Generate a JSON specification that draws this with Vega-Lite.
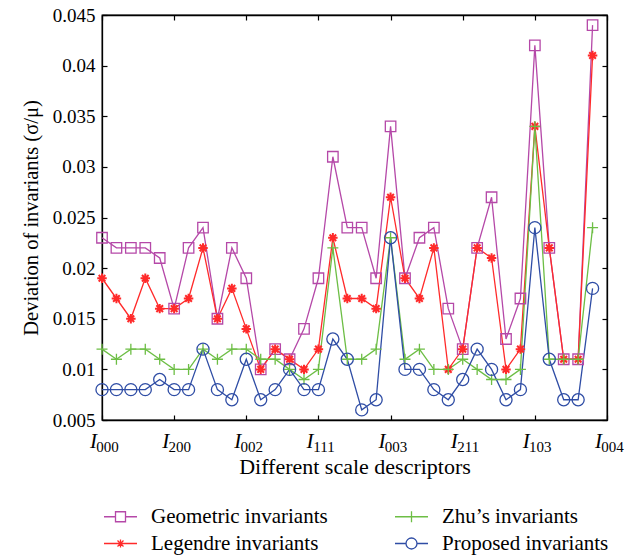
{
  "$schema": "https://vega.github.io/schema/vega-lite/v6.json",
  "width": 505,
  "height": 405,
  "autosize": "none",
  "padding": {"left": 102, "top": 15, "right": 32, "bottom": 137},
  "background": "white",
  "data": {"values": [
    {"i":0,"series":"Geometric invariants","v":0.023},{"i":1,"series":"Geometric invariants","v":0.022},{"i":2,"series":"Geometric invariants","v":0.022},{"i":3,"series":"Geometric invariants","v":0.022},{"i":4,"series":"Geometric invariants","v":0.021},{"i":5,"series":"Geometric invariants","v":0.016},{"i":6,"series":"Geometric invariants","v":0.022},{"i":7,"series":"Geometric invariants","v":0.024},{"i":8,"series":"Geometric invariants","v":0.015},{"i":9,"series":"Geometric invariants","v":0.022},{"i":10,"series":"Geometric invariants","v":0.019},{"i":11,"series":"Geometric invariants","v":0.010},{"i":12,"series":"Geometric invariants","v":0.012},{"i":13,"series":"Geometric invariants","v":0.011},{"i":14,"series":"Geometric invariants","v":0.014},{"i":15,"series":"Geometric invariants","v":0.019},{"i":16,"series":"Geometric invariants","v":0.031},{"i":17,"series":"Geometric invariants","v":0.024},{"i":18,"series":"Geometric invariants","v":0.024},{"i":19,"series":"Geometric invariants","v":0.019},{"i":20,"series":"Geometric invariants","v":0.034},{"i":21,"series":"Geometric invariants","v":0.019},{"i":22,"series":"Geometric invariants","v":0.023},{"i":23,"series":"Geometric invariants","v":0.024},{"i":24,"series":"Geometric invariants","v":0.016},{"i":25,"series":"Geometric invariants","v":0.012},{"i":26,"series":"Geometric invariants","v":0.022},{"i":27,"series":"Geometric invariants","v":0.027},{"i":28,"series":"Geometric invariants","v":0.013},{"i":29,"series":"Geometric invariants","v":0.017},{"i":30,"series":"Geometric invariants","v":0.042},{"i":31,"series":"Geometric invariants","v":0.022},{"i":32,"series":"Geometric invariants","v":0.011},{"i":33,"series":"Geometric invariants","v":0.011},{"i":34,"series":"Geometric invariants","v":0.044},
    {"i":0,"series":"Legendre invariants","v":0.019},{"i":1,"series":"Legendre invariants","v":0.017},{"i":2,"series":"Legendre invariants","v":0.015},{"i":3,"series":"Legendre invariants","v":0.019},{"i":4,"series":"Legendre invariants","v":0.016},{"i":5,"series":"Legendre invariants","v":0.016},{"i":6,"series":"Legendre invariants","v":0.017},{"i":7,"series":"Legendre invariants","v":0.022},{"i":8,"series":"Legendre invariants","v":0.015},{"i":9,"series":"Legendre invariants","v":0.018},{"i":10,"series":"Legendre invariants","v":0.014},{"i":11,"series":"Legendre invariants","v":0.010},{"i":12,"series":"Legendre invariants","v":0.012},{"i":13,"series":"Legendre invariants","v":0.011},{"i":14,"series":"Legendre invariants","v":0.010},{"i":15,"series":"Legendre invariants","v":0.012},{"i":16,"series":"Legendre invariants","v":0.023},{"i":17,"series":"Legendre invariants","v":0.017},{"i":18,"series":"Legendre invariants","v":0.017},{"i":19,"series":"Legendre invariants","v":0.016},{"i":20,"series":"Legendre invariants","v":0.027},{"i":21,"series":"Legendre invariants","v":0.019},{"i":22,"series":"Legendre invariants","v":0.017},{"i":23,"series":"Legendre invariants","v":0.022},{"i":24,"series":"Legendre invariants","v":0.010},{"i":25,"series":"Legendre invariants","v":0.012},{"i":26,"series":"Legendre invariants","v":0.022},{"i":27,"series":"Legendre invariants","v":0.021},{"i":28,"series":"Legendre invariants","v":0.010},{"i":29,"series":"Legendre invariants","v":0.012},{"i":30,"series":"Legendre invariants","v":0.034},{"i":31,"series":"Legendre invariants","v":0.022},{"i":32,"series":"Legendre invariants","v":0.011},{"i":33,"series":"Legendre invariants","v":0.011},{"i":34,"series":"Legendre invariants","v":0.041},
    {"i":0,"series":"Zhu’s invariants","v":0.012},{"i":1,"series":"Zhu’s invariants","v":0.011},{"i":2,"series":"Zhu’s invariants","v":0.012},{"i":3,"series":"Zhu’s invariants","v":0.012},{"i":4,"series":"Zhu’s invariants","v":0.011},{"i":5,"series":"Zhu’s invariants","v":0.010},{"i":6,"series":"Zhu’s invariants","v":0.010},{"i":7,"series":"Zhu’s invariants","v":0.012},{"i":8,"series":"Zhu’s invariants","v":0.011},{"i":9,"series":"Zhu’s invariants","v":0.012},{"i":10,"series":"Zhu’s invariants","v":0.012},{"i":11,"series":"Zhu’s invariants","v":0.011},{"i":12,"series":"Zhu’s invariants","v":0.011},{"i":13,"series":"Zhu’s invariants","v":0.010},{"i":14,"series":"Zhu’s invariants","v":0.009},{"i":15,"series":"Zhu’s invariants","v":0.010},{"i":16,"series":"Zhu’s invariants","v":0.022},{"i":17,"series":"Zhu’s invariants","v":0.011},{"i":18,"series":"Zhu’s invariants","v":0.011},{"i":19,"series":"Zhu’s invariants","v":0.012},{"i":20,"series":"Zhu’s invariants","v":0.023},{"i":21,"series":"Zhu’s invariants","v":0.011},{"i":22,"series":"Zhu’s invariants","v":0.012},{"i":23,"series":"Zhu’s invariants","v":0.010},{"i":24,"series":"Zhu’s invariants","v":0.010},{"i":25,"series":"Zhu’s invariants","v":0.011},{"i":26,"series":"Zhu’s invariants","v":0.010},{"i":27,"series":"Zhu’s invariants","v":0.009},{"i":28,"series":"Zhu’s invariants","v":0.009},{"i":29,"series":"Zhu’s invariants","v":0.010},{"i":30,"series":"Zhu’s invariants","v":0.034},{"i":31,"series":"Zhu’s invariants","v":0.011},{"i":32,"series":"Zhu’s invariants","v":0.011},{"i":33,"series":"Zhu’s invariants","v":0.011},{"i":34,"series":"Zhu’s invariants","v":0.024},
    {"i":0,"series":"Proposed invariants","v":0.008},{"i":1,"series":"Proposed invariants","v":0.008},{"i":2,"series":"Proposed invariants","v":0.008},{"i":3,"series":"Proposed invariants","v":0.008},{"i":4,"series":"Proposed invariants","v":0.009},{"i":5,"series":"Proposed invariants","v":0.008},{"i":6,"series":"Proposed invariants","v":0.008},{"i":7,"series":"Proposed invariants","v":0.012},{"i":8,"series":"Proposed invariants","v":0.008},{"i":9,"series":"Proposed invariants","v":0.007},{"i":10,"series":"Proposed invariants","v":0.011},{"i":11,"series":"Proposed invariants","v":0.007},{"i":12,"series":"Proposed invariants","v":0.008},{"i":13,"series":"Proposed invariants","v":0.010},{"i":14,"series":"Proposed invariants","v":0.008},{"i":15,"series":"Proposed invariants","v":0.008},{"i":16,"series":"Proposed invariants","v":0.013},{"i":17,"series":"Proposed invariants","v":0.011},{"i":18,"series":"Proposed invariants","v":0.006},{"i":19,"series":"Proposed invariants","v":0.007},{"i":20,"series":"Proposed invariants","v":0.023},{"i":21,"series":"Proposed invariants","v":0.010},{"i":22,"series":"Proposed invariants","v":0.010},{"i":23,"series":"Proposed invariants","v":0.008},{"i":24,"series":"Proposed invariants","v":0.007},{"i":25,"series":"Proposed invariants","v":0.009},{"i":26,"series":"Proposed invariants","v":0.012},{"i":27,"series":"Proposed invariants","v":0.010},{"i":28,"series":"Proposed invariants","v":0.007},{"i":29,"series":"Proposed invariants","v":0.008},{"i":30,"series":"Proposed invariants","v":0.024},{"i":31,"series":"Proposed invariants","v":0.011},{"i":32,"series":"Proposed invariants","v":0.007},{"i":33,"series":"Proposed invariants","v":0.007},{"i":34,"series":"Proposed invariants","v":0.018}
  ]},
  "layer": [
    {
      "mark": {"type": "line", "strokeWidth": 1.3},
      "encoding": {
        "x": {"field": "i", "type": "quantitative",
          "scale": {"domain": [0, 35], "nice": false, "zero": false},
          "axis": {"orient": "bottom", "values": [0,5,10,15,20,25,30,35],
            "labelExpr": "'I'", "labelFontStyle": "italic", "labelFontSize": 21, "labelPadding": 15, "labelOffset": -9,
            "labelFlush": false, "labelOverlap": false,
            "title": "Different scale descriptors", "titleFontSize": 22, "titlePadding": 5}},
        "y": {"field": "v", "type": "quantitative",
          "scale": {"domain": [0.005, 0.045], "nice": false, "zero": false},
          "axis": {"orient": "left", "values": [0.005,0.01,0.015,0.02,0.025,0.03,0.035,0.04,0.045],
            "format": "~g", "labelPadding": 12, "labelFlush": false, "labelOverlap": false,
            "title": "Deviation of invariants (σ/μ)", "titleFontSize": 20.5, "titlePadding": 11}},
        "color": {"field": "series", "type": "nominal",
          "scale": {"domain": ["Geometric invariants", "Zhu’s invariants", "Legendre invariants", "Proposed invariants"],
                    "range": ["#B548A8", "#6DBE45", "#FF2A2A", "#2F4DA5"]}},
        "detail": {"field": "series"}
      }
    },
    {
      "transform": [{"filter": "datum.series === 'Geometric invariants'"}],
      "mark": {"type": "point", "filled": false, "size": 110, "strokeWidth": 1.3, "opacity": 1, "shape": "M-1,-1H1V1H-1Z"},
      "encoding": {
        "x": {"field": "i", "type": "quantitative",
          "axis": {"orient": "top", "values": [0,5,10,15,20,25,30,35], "labels": false, "title": null}},
        "y": {"field": "v", "type": "quantitative",
          "axis": {"orient": "right", "values": [0.005,0.01,0.015,0.02,0.025,0.03,0.035,0.04,0.045], "labels": false, "title": null}},
        "color": {"field": "series", "type": "nominal"}
      }
    },
    {
      "transform": [{"filter": "datum.series === 'Legendre invariants'"}],
      "mark": {"type": "point", "filled": false, "size": 90, "strokeWidth": 2, "opacity": 1, "shape": "M0,-1V1M-1,0H1M-0.7,-0.7L0.7,0.7M-0.7,0.7L0.7,-0.7"},
      "encoding": {
        "x": {"field": "i", "type": "quantitative", "axis": null},
        "y": {"field": "v", "type": "quantitative", "axis": null},
        "color": {"field": "series", "type": "nominal"}
      }
    },
    {
      "transform": [{"filter": "datum.series === 'Zhu’s invariants'"}],
      "mark": {"type": "point", "filled": false, "size": 121, "strokeWidth": 1.3, "opacity": 1, "shape": "M-1,0H1M0,-1V1"},
      "encoding": {
        "x": {"field": "i", "type": "quantitative", "axis": null},
        "y": {"field": "v", "type": "quantitative", "axis": null},
        "color": {"field": "series", "type": "nominal"}
      }
    },
    {
      "transform": [{"filter": "datum.series === 'Proposed invariants'"}],
      "mark": {"type": "point", "filled": false, "size": 121, "strokeWidth": 1.3, "opacity": 1, "shape": "M-1.1,0A1.1,1.1 0 1,0 1.1,0A1.1,1.1 0 1,0 -1.1,0"},
      "encoding": {
        "x": {"field": "i", "type": "quantitative", "axis": null},
        "y": {"field": "v", "type": "quantitative", "axis": null},
        "color": {"field": "series", "type": "nominal"}
      }
    },
    {
      "mark": {"type": "point", "filled": false, "opacity": 0},
      "encoding": {
        "x": {"field": "i", "type": "quantitative",
          "axis": {"orient": "bottom", "values": [0,5,10,15,20,25,30,35],
            "labelExpr": "['000','200','002','111','003','211','103','004'][round(datum.value/5)]",
            "labelFontSize": 15, "labelPadding": 24, "labelOffset": 5, "labelFlush": false, "labelOverlap": false,
            "domain": false, "tickOpacity": 0, "title": null}},
        "y": {"field": "v", "type": "quantitative", "axis": null},
        "color": {"field": "series", "type": "nominal",
          "legend": {"title": null, "orient": "none", "legendX": 2, "legendY": 491,
            "direction": "horizontal", "columns": 2, "columnPadding": 64, "rowPadding": 5,
            "symbolSize": 100, "symbolOffset": 6, "labelOffset": 20, "symbolStrokeWidth": 1.3, "symbolOpacity": 1,
            "labelFont": "Liberation Serif", "labelFontSize": 21, "labelColor": "black", "labelLimit": 400}},
        "shape": {"field": "series", "type": "nominal",
          "scale": {"domain": ["Geometric invariants", "Zhu’s invariants", "Legendre invariants", "Proposed invariants"],
                    "range": ["M-3.3,0H-1M1,0H3.3M-1,-1H1V1H-1Z", "M-3.3,0H3.3M0,-1.1V1.1", "M-3.3,0H3.3M0,-0.8V0.8M-0.6,-0.6L0.6,0.6M-0.6,0.6L0.6,-0.6", "M-3.3,0H-1.1M1.1,0H3.3M-1.1,0A1.1,1.1 0 1,0 1.1,0A1.1,1.1 0 1,0 -1.1,0"]},
          "legend": {"title": null, "orient": "none", "legendX": 2, "legendY": 491,
            "direction": "horizontal", "columns": 2, "columnPadding": 64, "rowPadding": 5,
            "symbolSize": 100, "symbolOffset": 6, "labelOffset": 20, "symbolStrokeWidth": 1.3, "symbolOpacity": 1,
            "labelFont": "Liberation Serif", "labelFontSize": 21, "labelColor": "black", "labelLimit": 400}}
      }
    }
  ],
  "resolve": {"axis": {"x": "independent", "y": "independent"}},
  "config": {
    "view": {"stroke": "black", "strokeWidth": 1.3},
    "axis": {"grid": false, "domainColor": "black", "domainWidth": 1.3, "tickColor": "black", "tickWidth": 1.2, "tickSize": -5,
      "labelColor": "black", "titleColor": "black", "labelFont": "Liberation Serif", "titleFont": "Liberation Serif",
      "titleFontWeight": "normal", "labelFontSize": 19, "titleFontSize": 19}
  }
}
